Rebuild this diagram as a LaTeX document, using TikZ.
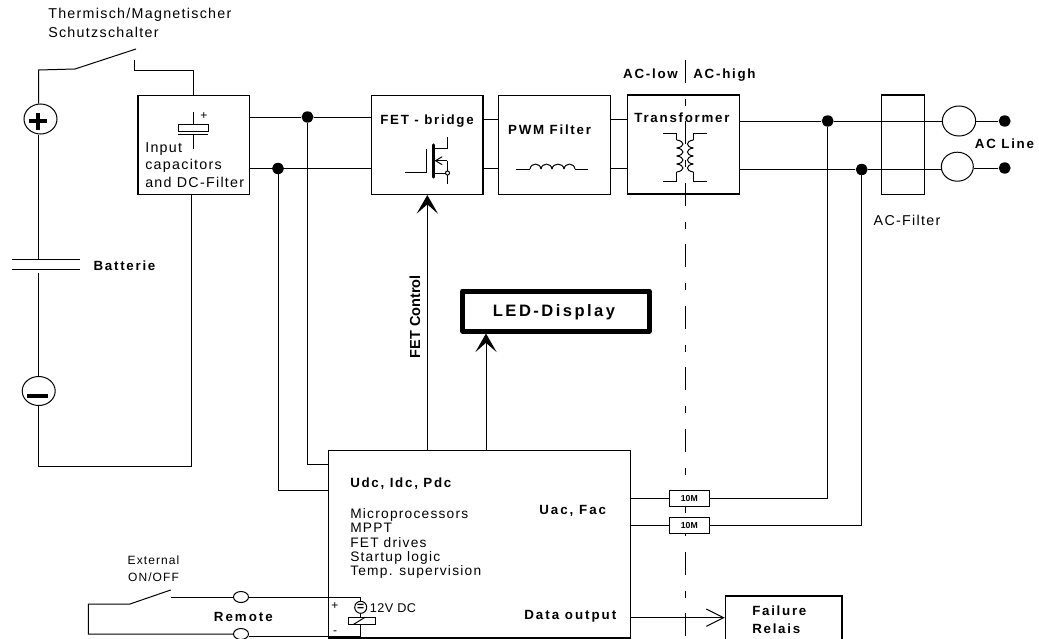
\documentclass[tikz,border=0pt]{standalone}
\usepackage{fontspec}
\setmainfont{Liberation Sans}[LetterSpace=9,BoldFeatures={LetterSpace=13}]
\newfontfamily\tightfont{Liberation Sans}
\newfontfamily\widefont{Liberation Sans}[LetterSpace=15]
\usetikzlibrary{shapes.geometric,positioning,fit,arrows.meta}
\tikzset{
  wire/.style={line width=0.75pt},
  box/.style={draw,line width=0.8pt,inner sep=0pt},
  ring/.style={draw,ellipse,line width=0.75pt,inner sep=0pt,fill=white},
  dot/.style={fill=black,ellipse,inner sep=0pt,minimum width=9pt,minimum height=8.5pt},
  res/.style={box,fill=white,minimum width=30pt,minimum height=12pt,font=\tightfont\fontsize{6.5}{7}\selectfont\bfseries},
  txt/.style={inner sep=0pt,font=\fontsize{10.3}{10.7}\selectfont},
  txw/.style={inner sep=0pt,font=\fontsize{10.7}{13.1}\selectfont},
  txb/.style={inner sep=0pt,font=\fontsize{10}{13.5}\selectfont\bfseries},
  txs/.style={inner sep=0pt,font=\widefont\fontsize{10}{13.5}\selectfont\bfseries},
  ctrl/.style={wire,-{Stealth[length=14pt,width=16pt,inset=7pt]}},
  data/.style={wire,-{Straight Barb[length=13pt,width=13pt]}}
}
\begin{document}
\begin{tikzpicture}[x=0.75pt,y=-0.75pt]
\useasboundingbox (0,0) rectangle (1039,639);
\draw[wire,dash pattern=on 17.25pt off 12pt on 5.25pt off 11.6pt] (685.5,60) -- (685.5,639); % Line.isolation
\node[box,fit={(138,95.5) (249.5,194.5)}] (inputbox) {};
\node[box,fit={(371.5,95.5) (483,194.5)}] (fetbox) {};
\node[box,fit={(498.5,95.5) (610.5,194.5)}] (pwmbox) {};
\node[box,fit={(627.5,95) (739.6,194)}] (trafobox) {};
\node[box,fit={(881.7,95) (924.7,194.7)}] (acbox) {};
\node[box,fit={(328.5,450.5) (630.5,638)}] (mcubox) {};
\node[box,fit={(725.3,596) (842,650)}] (relaisbox) {};
\node[box,line width=3.75pt,line join=round,fit={(462.7,291) (649,331)}] (ledbox) {};
\node[ring,minimum width=24.75pt,minimum height=22.5pt] (pluspole) at (40.5,119) {};
\node[ring,minimum width=24.75pt,minimum height=21.75pt] (minuspole) at (38.7,391) {};
\node[ring,minimum width=25pt,minimum height=22.5pt] (acupper) at (959,121) {};
\node[ring,minimum width=24pt,minimum height=21.75pt] (aclower) at (957.3,166.7) {};
\node[ring,minimum width=11.25pt,minimum height=8.25pt] (remupper) at (241,597) {};
\node[ring,minimum width=11.25pt,minimum height=8.25pt] (remlower) at (241,634) {};
\node[dot] (dcupper) at (307.5,117) {};
\node[dot] (dclower) at (278,168.5) {};
\node[dot] (acmain) at (827.7,121) {};
\node[dot] (acneut) at (861.7,169.5) {};
\node[dot] (lineupper) at (1004.7,121) {};
\node[dot] (linelower) at (1004.7,168) {};
\node[res] (resupper) at (689.3,498.5) {10M};
\node[res] (reslower) at (689.3,525.3) {10M};
% battery side
\coordinate (brkfix) at (38.5,70);
\coordinate (brkpivot) at (75,69);
\coordinate (brkblade) at (136,49);
\coordinate (brkcontact) at (134,60);
\coordinate (brkinput) at (193,70);
\coordinate (platetop) at (38.5,259.7);
\coordinate (platelow) at (38.5,272.5);
\coordinate (batcorner) at (38,466.5);
\coordinate (filtercorner) at (191,466.5);
\draw[wire] (pluspole.north -| brkfix) -- (brkfix) -- (brkpivot) -- (brkblade);
\draw[wire] (brkcontact) |- (brkinput) -- (brkinput |- inputbox.north);
\draw[wire] (pluspole.south -| platetop) -- (platetop);
\draw[wire] (platelow) -- (platelow |- minuspole.north);
\draw[wire] (12,259.7) -- (80,259.7); % Plate.top
\draw[wire] (11.5,269.3) -- (80,269.3); % Plate.low
\draw[wire] (minuspole.south -| batcorner) -- (batcorner) -- (filtercorner) -- (filtercorner |- inputbox.south);
\draw[line width=3pt] (29,121) -- (47,121); % Sign.plus
\draw[line width=3pt] (38,113) -- (38,130); % Sign.plus
\draw[line width=3pt] (27,396) -- (47.5,396); % Sign.minus
% input capacitor
\draw[wire] (193,112) -- (193,124.5);
\draw[wire] (178,124.5) rectangle (208,131);
\draw[wire] (178,134.5) -- (208,134.5);
\draw[wire] (193,134.5) -- (193,149);
% bus between the boxes
\draw[wire] (inputbox.east |- dcupper) -- (dcupper) -- (fetbox.west |- dcupper);
\draw[wire] (inputbox.east |- dclower) -- (dclower) -- (fetbox.west |- dclower);
\draw[wire] (fetbox.east |- 0,119) -- (pwmbox.west |- 0,119);
\draw[wire] (fetbox.east |- 0,168.7) -- (pwmbox.west |- 0,168.7);
\draw[wire] (pwmbox.east |- 0,119) -- (trafobox.west |- 0,119);
\draw[wire] (pwmbox.east |- 0,168.7) -- (trafobox.west |- 0,168.7);
\draw[wire] (trafobox.east |- acmain) -- (acmain) -- (acupper);
\draw[wire] (trafobox.east |- acneut) -- (acneut) -- (aclower.west |- acneut);
\draw[wire] (acupper) -- (lineupper);
\draw[wire] (aclower.east |- linelower) -- (linelower);
% measuring lines
\draw[wire] (dcupper) |- (mcubox.west |- 0,464);
\draw[wire] (dclower) |- (mcubox.west |- 0,490.7);
\draw[wire] (acmain) |- (resupper);
\draw[wire] (acneut) |- (reslower);
\draw[wire] (resupper) -- (mcubox.east |- resupper);
\draw[wire] (reslower) -- (mcubox.east |- reslower);
\coordinate (fetgate) at (427.3,450.5);
\coordinate (ledfeed) at (486,450.5);
\draw[ctrl] (fetgate) -- (fetgate |- fetbox.south);
\draw[ctrl] (ledfeed) -- (ledfeed |- ledbox.south);
\draw[data] (mcubox.east |- 0,617.7) -- (relaisbox.west |- 0,617.7);
% FET symbol
\draw[wire] (405,172.3) -- (426.7,172.3) -- (426.7,149);
\draw[line width=2.6pt,line cap=round] (433.3,145) -- (433.3,177);
\draw[wire] (433.3,148) -- (447.3,148) -- (447.3,137.3);
\draw[wire] (433.3,173) -- (445.5,173);
\draw[wire] (447.3,160.7) -- (447.3,183.7);
\draw[wire,-{Straight Barb[length=5pt,width=6pt]}] (447.3,160.7) -- (434.5,160.7);
\draw[wire,fill=white] (447.5,173) circle (2);
% PWM choke
\draw[wire] (515.7,169) -- (530,169);
\draw[wire] (575,169) -- (588,169);
\foreach \xa/\xb in {530/541,541/552,552/564,564/575}
  \draw[wire] (\xa,169) .. controls (\xa+1,162.5) and (\xb-1,162.5) .. (\xb,169);
% transformer windings
\draw[wire] (662.7,133.3) -- (676.7,133.3) -- (676.7,140);
\draw[wire] (676.7,172) -- (676.7,181.7) -- (662.7,181.7);
\draw[wire] (706.7,133.3) -- (693.3,133.3) -- (693.3,140);
\draw[wire] (693.3,172) -- (693.3,181.7) -- (706.7,181.7);
\foreach \ya/\yb in {140/148,148/156,156/164,164/172} {
  \draw[wire] (676.7,\ya) .. controls (685,\ya+1) and (685,\yb-1) .. (676.7,\yb);
  \draw[wire] (693.3,\ya) .. controls (685.5,\ya+1) and (685.5,\yb-1) .. (693.3,\yb);
}
% remote loop
\coordinate (swfix) at (88.3,604);
\coordinate (swpivot) at (130,604);
\coordinate (swblade) at (170.7,590);
\coordinate (swcontact) at (171,597);
\coordinate (coiltop) at (360.7,597);
\coordinate (coilend) at (360.7,636.7);
\draw[wire] (swblade) -- (swpivot) -- (swfix) |- (remlower);
\draw[wire] (swcontact) -- (remupper);
\draw[wire] (remupper) -- (coiltop);
\draw[wire] (remlower.east |- coilend) -- (coilend);
\node[ring,circle,minimum size=9pt,font=\tightfont\fontsize{9}{9}\selectfont\bfseries] (supply) at (360.7,607.3) {=};
\node[box,fit={(348.3,617.3) (375.7,624.7)}] (relaycoil) {};
\draw[wire] (coiltop) -- (supply);
\draw[wire] (supply) -- (relaycoil.north -| supply);
\draw[wire] (relaycoil.south -| coilend) -- (coilend);
\draw[wire] (353,624.7) -- (365,617.3);
% labels
\node[txw,align=left,anchor=north west,font=\fontsize{10.7}{14.25}\selectfont] (brklabel) at (48,8) {Thermisch/Magnetischer\\Schutzschalter};
\node[txb] (batlabel) at (124.5,266) {Batterie};
\node[txt,anchor=west,font=\fontsize{9}{9}\selectfont] (capplus) at (200,116) {+};
\node[txw,align=left,anchor=north west] (inputlabel) at (145,142) {Input\\capacitors\\and DC-Filter};
\node[txb] (fetlabel) at (427,121) {FET - bridge};
\node[txb] (pwmlabel) at (549.6,130) {PWM Filter};
\node[txb] (trafolabel) at (682,118) {Transformer};
\node[txb] (aclow) at (650.5,74) {AC-low};
\node[txb] (achigh) at (724.5,75) {AC-high};
\node[txb] (linelabel) at (1004.5,144) {AC Line};
\node[txw] (filterlabel) at (907,220) {AC-Filter};
\node[txb,font=\widefont\fontsize{12.4}{14}\selectfont\bfseries] at (554,312) (ledlabel) {LED-Display};
\node[txb,rotate=90,font=\tightfont\fontsize{10.9}{12}\selectfont\bfseries] (ctrllabel) at (415,316.7) {FET Control};
\node[txb,anchor=west] (meslabel) at (350,484) {Udc, Idc, Pdc};
\node[txt,align=left,anchor=north west] (mculabel) at (350,508.5) {Microprocessors\\MPPT\\FET drives\\Startup logic\\Temp. supervision};
\node[txs,anchor=west] (uaclabel) at (539,511) {Uac, Fac};
\node[txs,anchor=west] (datalabel) at (524,616) {Data output};
\node[txb,align=left,anchor=north west] (relaislabel) at (752,606) {Failure\\Relais};
\node[txs] (remlabel) at (243.4,617) {Remote};
\node[txt,align=center,font=\fontsize{9}{12.75}\selectfont] (extlabel) at (153.5,569) {External\\ON/OFF};
\node[txt,font=\fontsize{9}{9}\selectfont] (remplus) at (335,606) {+};
\node[txt,font=\fontsize{9}{9}\selectfont] (remminus) at (335,633) {-};
\node[txt,anchor=west,font=\tightfont\fontsize{9.5}{10}\selectfont\addfontfeature{LetterSpace=4}] (dclabel) at (369.5,608) {12V DC};
\end{tikzpicture}
\end{document}
